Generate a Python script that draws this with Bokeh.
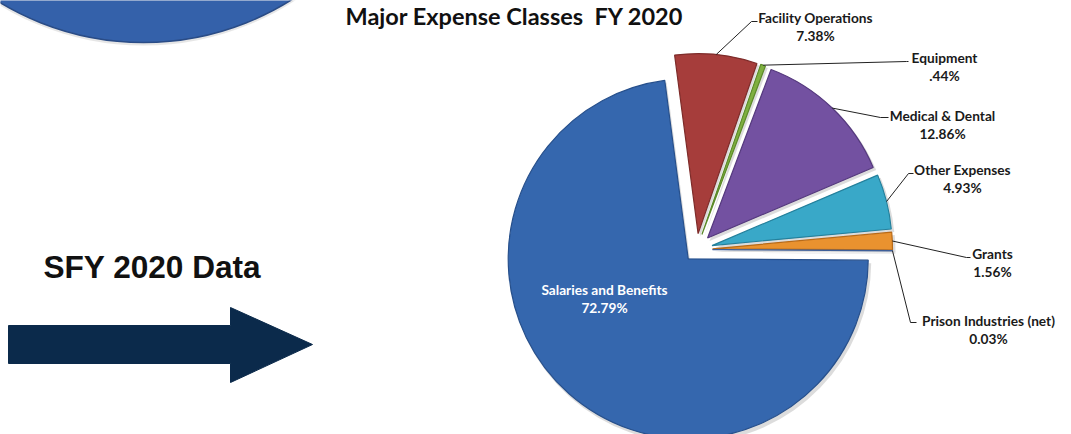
import math

from bokeh.core.properties import value
from bokeh.embed import file_html
from bokeh.models import Range1d
from bokeh.plotting import figure
from bokeh.resources import INLINE

# ---- data -----------------------------------------------------------------
categories = [
    "Facility Operations",
    "Equipment",
    "Medical & Dental",
    "Other Expenses",
    "Grants",
    "Prison Industries (net)",
    "Salaries and Benefits",
]
shares = [7.38, 0.44, 12.86, 4.93, 1.56, 0.03, 72.79]
share_labels = ["7.38%", ".44%", "12.86%", "4.93%", "1.56%", "0.03%", "72.79%"]

# ---- styling --------------------------------------------------------------
colors = ["#A63D3B", "#7FB040", "#7351A1", "#39A8C8", "#E9922F", "#5A7FBF", "#3567AE"]
edge_colors = ["#7E2C2A", "#5C8A2A", "#55397E", "#24809C", "#B86A18", "#3E5F99", "#27508C"]
explode = [16, 16, 16, 16, 16, 16, 12.5]

W, H = 1071, 434


def Y(py):
    """Convert a top-down pixel row into the plot's upward y coordinate."""
    return H - py


p = figure(
    width=W, height=H,
    x_range=Range1d(0, W), y_range=Range1d(0, H),
    min_border=0, toolbar_location=None, output_backend="svg",
)
p.axis.visible = False
p.grid.visible = False
p.outline_line_color = None
p.background_fill_color = "white"
p.border_fill_color = "white"

FONT = value("Lato")
LABEL_SIZE = "13.7px"

# ---- left-hand decoration: partial disc, caption and arrow ----------------
p.circle(x=[143], y=[Y(-233)], radius=278, fill_color="#9a9a9a", fill_alpha=0.25, line_color=None)
p.circle(x=[143], y=[Y(-236)], radius=278, fill_color="#3461AA", line_color="#2A4C86", line_width=1.5)

p.text(x=[43], y=[Y(266)], text=["SFY 2020 Data"], text_font=value("Liberation Sans"),
       text_font_style="bold", text_font_size="31.6px", text_baseline="middle",
       text_align="left", text_color="#111111")

arrow_x = [8, 230, 230, 312, 230, 230, 8]
arrow_y = [Y(v) for v in (325, 325, 307, 344, 382, 363, 363)]
p.patch(arrow_x, arrow_y, fill_color="#0B2A4B", line_color="#0B2A4B")

# ---- title -----------------------------------------------------------------
p.text(x=[345], y=[Y(15)], text=["Major Expense Classes\u00a0 FY 2020"], text_font=FONT,
       text_font_style="bold", text_font_size="23.5px", text_baseline="middle",
       text_align="left", text_color="#111111")

# ---- pie ------------------------------------------------------------------
cx, cy = 696, Y(249)
R = 180
first_angle = 97.5  # degrees, slices run clockwise from here

total = sum(shares)
starts, ends, mids, centers = [], [], [], []
a = first_angle
for v, d in zip(shares, explode):
    sweep = 360.0 * v / total
    a_end = a - sweep
    mid = math.radians((a + a_end) / 2)
    starts.append(math.radians(a_end))
    ends.append(math.radians(a))
    mids.append(mid)
    centers.append((cx + d * math.cos(mid), cy + d * math.sin(mid)))
    a = a_end

xs = [c[0] for c in centers]
ys = [c[1] for c in centers]

# soft drop shadow, then the slices themselves
p.wedge(x=[x + 2 for x in xs], y=[y - 3 for y in ys], radius=R + 1,
        start_angle=starts, end_angle=ends, fill_color="#8a8a8a", fill_alpha=0.30,
        line_color=None)
p.wedge(x=xs, y=ys, radius=R, start_angle=starts, end_angle=ends,
        fill_color=colors, line_color=edge_colors, line_width=1.2)

# ---- callouts -------------------------------------------------------------
# (elbow x, elbow y, end x, label centre x, label top-line y) in pixel rows
callouts = [
    (751, 21, 757, 815, 17),
    (906, 61, 908, 944, 57),
    (880, 117, 888, 942, 115),
    (908, 173, 913, 962, 169),
    (966, 257, 970, 992, 253),
    (910, 322, 916, 988, 320),
]
for i, (ex, ey, endx, lx, ly) in enumerate(callouts):
    ox, oy = centers[i]
    sx = ox + R * math.cos(mids[i])
    sy = oy + R * math.sin(mids[i])
    p.line([sx, ex, endx], [sy, Y(ey), Y(ey)], line_color="#222222", line_width=1)
    p.text(x=[lx, lx], y=[Y(ly), Y(ly + 17.5)], text=[categories[i], share_labels[i]],
           text_font=FONT, text_font_style="bold", text_font_size=LABEL_SIZE,
           text_align="center", text_baseline="middle", text_color="#1a1a1a")

# the dominant slice carries its label inside
p.text(x=[604, 604], y=[Y(289), Y(307)], text=[categories[6], share_labels[6]],
       text_font=FONT, text_font_style="bold", text_font_size=LABEL_SIZE,
       text_align="center", text_baseline="middle", text_color="white")

open("out.html", "w").write(file_html(p, INLINE))
